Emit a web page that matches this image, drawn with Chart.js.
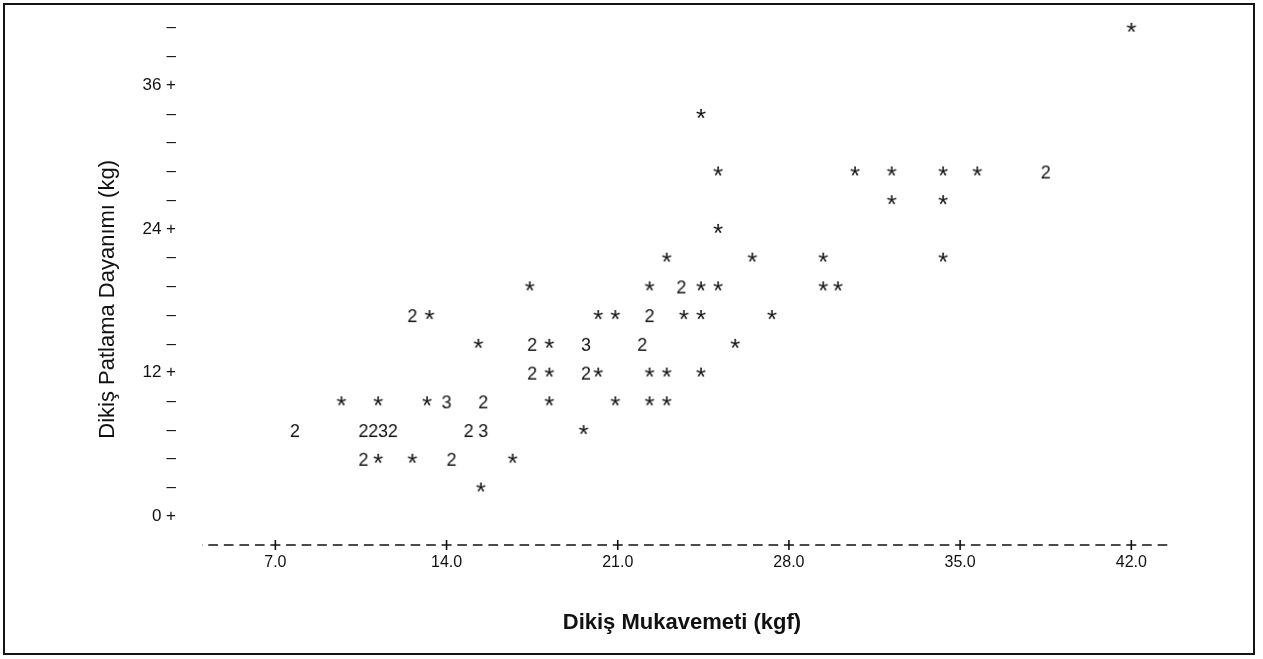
<!DOCTYPE html>
<html lang="tr">
<head>
<meta charset="utf-8">
<title>Dikiş Mukavemeti / Dikiş Patlama Dayanımı</title>
<script src="https://cdn.jsdelivr.net/npm/chart.js@4.4.1/dist/chart.umd.min.js"></script>
<style>
    html, body { margin: 0; padding: 0; background: #fff; }
    #wrap { position: relative; width: 1263px; height: 659px; }
    #frame { position: absolute; left: 3px; top: 3px; width: 1248px; height: 648px; border: 2px solid #151515; pointer-events: none; }
</style>
</head>
<body>
<div id="wrap">
    <canvas id="plot"></canvas>
    <div id="frame"></div>
</div>
<script>
// Observations printed as "*" (one point at that print position)
const singleX = [
    42.0,
    24.4,
    25.1, 30.7, 32.2, 34.3, 35.7,
    32.2, 34.3,
    25.1,
    23.0, 26.5, 29.4, 34.3,
    17.4, 22.3, 24.4, 25.1, 29.4, 30.0,
    13.3, 20.2, 20.9, 23.7, 24.4, 27.3,
    15.3, 18.2, 25.8,
    18.2, 20.2, 22.3, 23.0, 24.4,
    9.7, 11.2, 13.2, 18.2, 20.9, 22.3, 23.0,
    19.6,
    11.2, 12.6, 16.7,
    15.4
];
const singleY = [
    40.8,
    33.6,
    28.8, 28.8, 28.8, 28.8, 28.8,
    26.4, 26.4,
    24.0,
    21.6, 21.6, 21.6, 21.6,
    19.2, 19.2, 19.2, 19.2, 19.2, 19.2,
    16.8, 16.8, 16.8, 16.8, 16.8, 16.8,
    14.4, 14.4, 14.4,
    12.0, 12.0, 12.0, 12.0, 12.0,
    9.6, 9.6, 9.6, 9.6, 9.6, 9.6, 9.6,
    7.2,
    4.8, 4.8, 4.8,
    2.4
];

// Positions printed as "2" (two observations)
const doubleX = [38.5, 23.6, 12.6, 22.3, 17.5, 22.0, 17.5, 19.7, 15.5, 7.8, 10.6, 11.0, 11.8, 14.9, 10.6, 14.2];
const doubleY = [28.8, 19.2, 16.8, 16.8, 14.4, 14.4, 12.0, 12.0, 9.6, 7.2, 7.2, 7.2, 7.2, 7.2, 4.8, 4.8];

// Positions printed as "3" (three observations)
const tripleX = [19.7, 14.0, 11.4, 15.5];
const tripleY = [14.4, 9.6, 7.2, 7.2];

// Axis ticks
const xTicks = [7, 14, 21, 28, 35, 42];
const yRowTicks = [0, 2.4, 4.8, 7.2, 9.6, 12, 14.4, 16.8, 19.2, 21.6, 24, 26.4, 28.8, 31.2, 33.6, 36, 38.4, 40.8];
const yLabelTicks = [0, 12, 24, 36];

const ink = '#111';
const family = "'Liberation Sans', Arial, Helvetica, sans-serif";

// Small canvas with one printed character, used as the point marker
function glyph(ch, font) {
    const c = document.createElement('canvas');
    c.width = 26;
    c.height = 26;
    const g = c.getContext('2d');
    g.font = font;
    g.fillStyle = ink;
    const m = g.measureText(ch);
    const x = 13 - (m.actualBoundingBoxRight - m.actualBoundingBoxLeft) / 2;
    const y = 13 + (m.actualBoundingBoxAscent - m.actualBoundingBoxDescent) / 2;
    g.fillText(ch, x, y);
    return c;
}

function toPoints(xs, ys) {
    return xs.map((x, i) => ({ x: x, y: ys[i] }));
}

// Line-printer style x axis: dashed rule with "+" at each tick
const printerAxis = {
    id: 'printerAxis',
    afterDraw(chart) {
        const sx = chart.scales.x;
        const ctx = chart.ctx;
        const y = sx.top;
        // 11 print columns between two labelled ticks
        const col = (sx.getPixelForValue(xTicks[1]) - sx.getPixelForValue(xTicks[0])) / 11;
        const dash = col * 0.62;
        const startGap = sx.getPixelForValue(xTicks[0]) - sx.left;
        ctx.save();
        ctx.strokeStyle = ink;
        ctx.lineWidth = 1.6;
        ctx.setLineDash([dash, col - dash]);
        ctx.lineDashOffset = dash / 2 - (startGap % col) + col;
        ctx.beginPath();
        ctx.moveTo(sx.left, y);
        ctx.lineTo(sx.right, y);
        ctx.stroke();
        ctx.setLineDash([]);
        sx.ticks.forEach(t => {
            const px = sx.getPixelForValue(t.value);
            ctx.clearRect(px - col / 2, y - 2, col, 4);
            ctx.beginPath();
            ctx.moveTo(px, y - 5);
            ctx.lineTo(px, y + 5);
            ctx.moveTo(px - 5, y);
            ctx.lineTo(px + 5, y);
            ctx.stroke();
        });
        ctx.restore();
    }
};

const starImg = glyph('*', `26px ${family}`);
const twoImg = glyph('2', `18px ${family}`);
const threeImg = glyph('3', `18px ${family}`);

new Chart(document.getElementById('plot'), {
    type: 'scatter',
    data: {
        datasets: [
            { label: '1', data: toPoints(singleX, singleY), pointStyle: starImg },
            { label: '2', data: toPoints(doubleX, doubleY), pointStyle: twoImg },
            { label: '3', data: toPoints(tripleX, tripleY), pointStyle: threeImg }
        ]
    },
    options: {
        responsive: true,
        maintainAspectRatio: false,
        animation: false,
        events: [],
        layout: { padding: { left: 0, right: 95, top: 11, bottom: 0 } },
        plugins: {
            legend: { display: false },
            tooltip: { enabled: false }
        },
        scales: {
            x: {
                type: 'linear',
                min: 4,
                max: 43.5,
                afterBuildTicks: s => { s.ticks = xTicks.map(v => ({ value: v })); },
                afterFit: s => { s.height = 114; },
                grid: { display: false, drawTicks: false },
                border: { display: false },
                ticks: {
                    autoSkip: false,
                    maxRotation: 0,
                    padding: 8,
                    color: ink,
                    font: { family: family, size: 16 },
                    callback: v => v.toFixed(1)
                },
                title: {
                    display: true,
                    text: 'Dikiş Mukavemeti (kgf) ',
                    color: ink,
                    font: { family: family, size: 22, weight: 'bold' },
                    padding: { top: 0, bottom: 23 }
                }
            },
            y: {
                type: 'linear',
                min: -2.4,
                max: 42.2,
                afterBuildTicks: s => { s.ticks = yRowTicks.map(v => ({ value: v })); },
                afterFit: s => { s.width = 202; },
                // invisible tick marks only to keep the labels clear of the plot
                grid: { display: true, drawOnChartArea: false, drawTicks: true, tickLength: 26, color: 'rgba(0,0,0,0)' },
                border: { display: false },
                ticks: {
                    autoSkip: false,
                    padding: 0,
                    color: ink,
                    font: { family: family, size: 17 },
                    callback: v => yLabelTicks.includes(v) ? v + ' +' : '–'
                },
                title: {
                    display: true,
                    // trailing spaces push the centred title down to where the original sits
                    text: 'Dikiş Patlama Dayanımı (kg)       ',
                    color: ink,
                    font: { family: family, size: 22 },
                    padding: { top: 95, bottom: 0 }
                }
            }
        }
    },
    plugins: [printerAxis]
});
</script>
</body>
</html>
